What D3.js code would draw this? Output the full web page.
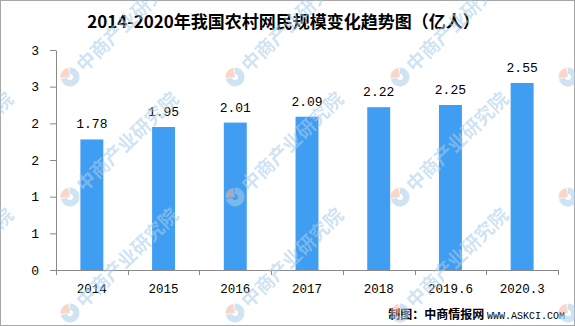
<!DOCTYPE html>
<html>
<head>
<meta charset="utf-8">
<script src="https://cdn.jsdelivr.net/npm/d3@7"></script>
<style>
  html, body { margin: 0; padding: 0; background: #fff; }
  svg { display: block; }
</style>
</head>
<body>
<svg id="chart" width="575" height="326"></svg>
<script>
// Rural internet users in China, 2014 – 2020.3 (hundred million people)
const categories = ["2014", "2015", "2016", "2017", "2018", "2019.6", "2020.3"];
const values = [1.78, 1.95, 2.01, 2.09, 2.22, 2.25, 2.55];
const valueLabels = ["1.78", "1.95", "2.01", "2.09", "2.22", "2.25", "2.55"];
const yTicks = [0, 0.5, 1, 1.5, 2, 2.5, 3];
const yTickLabels = ["0", "1", "1", "2", "2", "3", "3"];
const title = "2014-2020年我国农村网民规模变化趋势图（亿人）";
const source = "制图：中商情报网";
const sourceUrl = "WWW.ASKCI.COM";

const W = 575, H = 326;
const plot = { left: 56, right: 558, top: 50, bottom: 270 };
const monoFont = "'Liberation Mono', 'DejaVu Sans Mono', monospace";
const cjkFont = "'Noto Sans CJK SC', 'Noto Sans', sans-serif";
const axisColor = "#898989";
const barColor = "#3f9df2";

const svg = d3.select("#chart");

svg.append("rect")
  .attr("x", 0.5).attr("y", 0.5)
  .attr("width", W - 1).attr("height", H - 1)
  .attr("fill", "#fff")
  .attr("stroke", "#a6a6a6");

const x = d3.scaleBand()
  .domain(categories)
  .range([plot.left, plot.right])
  .paddingInner(0.68)
  .paddingOuter(0.34);

const y = d3.scaleLinear()
  .domain([0, 3])
  .range([plot.bottom, plot.top]);

// Title
svg.append("text")
  .attr("x", 283.5).attr("y", 28)
  .attr("text-anchor", "middle")
  .attr("font-family", cjkFont)
  .attr("font-weight", "bold")
  .attr("font-size", 17)
  .attr("fill", "#000")
  .text(title);

// Bars
svg.append("g").selectAll("rect")
  .data(values)
  .join("rect")
  .attr("x", (d, i) => x(categories[i]))
  .attr("y", d => y(d))
  .attr("width", x.bandwidth())
  .attr("height", d => y(0) - y(d))
  .attr("fill", barColor);

// Value labels above bars
svg.append("g").selectAll("text")
  .data(values)
  .join("text")
  .attr("x", (d, i) => x(categories[i]) + x.bandwidth() / 2)
  .attr("y", d => y(d) - 11)
  .attr("text-anchor", "middle")
  .attr("font-family", monoFont)
  .attr("font-size", 13)
  .attr("fill", "#000")
  .text((d, i) => valueLabels[i]);

// Y axis
const yAxis = d3.axisLeft(y)
  .tickValues(yTicks)
  .tickFormat((d, i) => yTickLabels[i])
  .tickSize(6)
  .tickPadding(11)
  .tickSizeOuter(0);

const gy = svg.append("g")
  .attr("transform", `translate(${plot.left},0)`)
  .call(yAxis);
gy.select(".domain").attr("stroke", axisColor);
gy.selectAll(".tick line").attr("stroke", axisColor);
gy.selectAll(".tick text")
  .attr("font-family", monoFont)
  .attr("font-size", 13)
  .attr("fill", "#000");

// X axis with tick marks on category boundaries
const xAxis = d3.axisBottom(x).tickSize(0).tickPadding(14);
const gx = svg.append("g")
  .attr("transform", `translate(0,${plot.bottom})`)
  .call(xAxis);
gx.select(".domain").attr("stroke", axisColor).attr("d", `M${plot.left - 6},0.5H${plot.right}`);
gx.selectAll(".tick text")
  .attr("font-family", monoFont)
  .attr("font-size", 12.5)
  .attr("fill", "#000");

const step = x.step();
const bounds = d3.range(categories.length + 1).map(i => plot.left + i * step);
gx.append("g").selectAll("line")
  .data(bounds)
  .join("line")
  .attr("x1", d => Math.round(d) + 0.5).attr("x2", d => Math.round(d) + 0.5)
  .attr("y1", 0).attr("y2", 5)
  .attr("stroke", axisColor);

// Source line
const src = svg.append("text")
  .attr("x", 565).attr("y", 319)
  .attr("text-anchor", "end")
  .attr("fill", "#000");
src.append("tspan")
  .attr("font-family", cjkFont)
  .attr("font-weight", "bold")
  .attr("font-size", 12)
  .text(source + " ");
src.append("tspan")
  .attr("font-family", monoFont)
  .attr("font-size", 10)
  .text(sourceUrl);

// Watermark tiles
const markX = [-95, 70, 235, 400, 568];
const markY = [77, 197, 313];
const marks = [];
markX.forEach(mx => markY.forEach(my => marks.push([mx, my])));

const wm = svg.append("g").attr("opacity", 0.55).attr("pointer-events", "none");
const tile = wm.selectAll("g")
  .data(marks)
  .join("g")
  .attr("transform", d => `translate(${d[0]},${d[1]})`);

const arc = d3.arc();
tile.append("path")
  .attr("d", arc({ innerRadius: 3, outerRadius: 9.5, startAngle: -0.05, endAngle: 4.5 }))
  .attr("fill", "#a9cdea");
tile.append("path")
  .attr("d", arc({ innerRadius: 0, outerRadius: 9.5, startAngle: 4.6, endAngle: 6.1 }))
  .attr("fill", "#f2b79c");

tile.append("text")
  .attr("transform", "rotate(-44)")
  .attr("x", 13).attr("y", 7)
  .attr("font-family", cjkFont)
  .attr("font-weight", "bold")
  .attr("font-size", 19)
  .attr("fill", "#a9cdea")
  .text("中商产业研究院");
</script>
</body>
</html>
